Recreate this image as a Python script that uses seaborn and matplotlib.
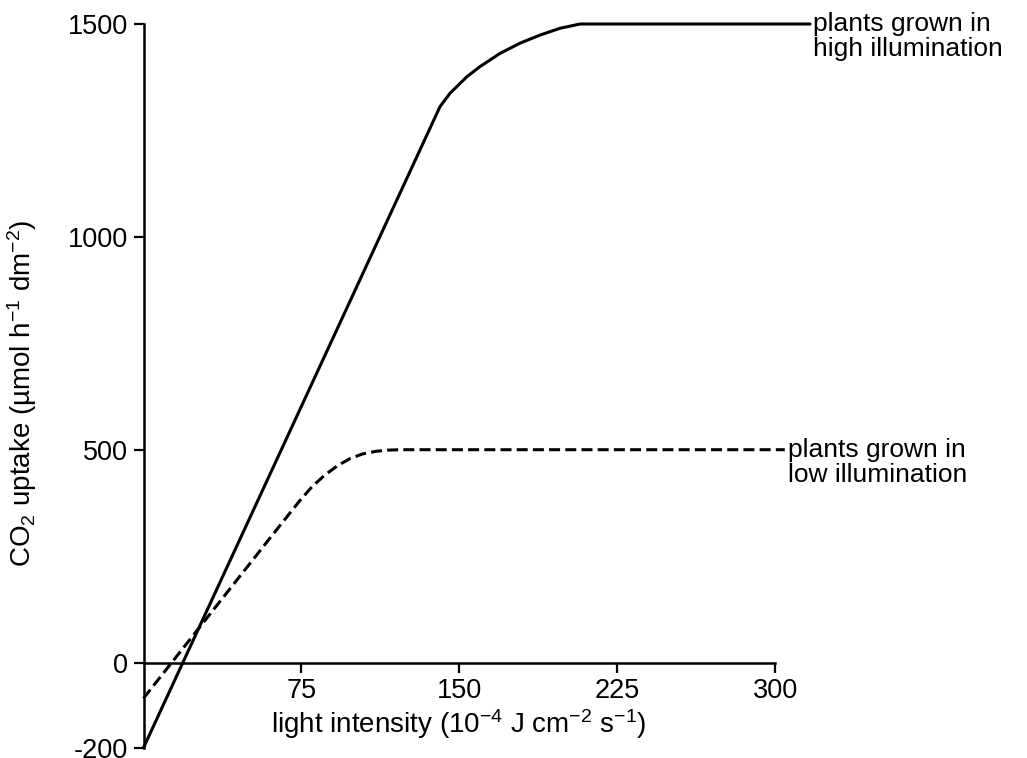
import matplotlib
matplotlib.use("Agg")
import matplotlib.pyplot as plt
import seaborn as sns
import pandas as pd

# ---- data ----
high_x = [0, 140.8, 145.5, 153.5, 159.8, 169.3, 178.8, 188.3, 197.8, 207.3, 316.5]
high_y = [-200, 1306, 1337, 1376, 1400, 1431, 1455, 1474, 1490, 1500, 1500]

low_x = [0, 60, 74, 80, 86, 92, 98, 104, 110, 116, 122, 304.5]
low_y = [-84, 292, 379, 413, 440, 462, 479, 490, 496, 499, 500, 500]

x_ticks = [75, 150, 225, 300]
x_ticklabels = ["75", "150", "225", "300"]
y_ticks = [-200, 0, 500, 1000, 1500]
y_ticklabels = ["-200", "0", "500", "1000", "1500"]

high_label = ["plants grown in", "high illumination"]
low_label = ["plants grown in", "low illumination"]
x_label = r"light intensity (10$^{-4}$ J cm$^{-2}$ s$^{-1}$)"
y_label = r"CO$_2$ uptake (µmol h$^{-1}$ dm$^{-2}$)"

# ---- style ----
sns.set_theme(style="white")
plt.rcParams["font.family"] = ["Liberation Sans", "DejaVu Sans"]
plt.rcParams["mathtext.fontset"] = "custom"
plt.rcParams["mathtext.rm"] = "Liberation Sans"
plt.rcParams["mathtext.it"] = "Liberation Sans:italic"
plt.rcParams["mathtext.bf"] = "Liberation Sans:bold"
plt.rcParams["axes.unicode_minus"] = False

W, H = 1027, 758
fig = plt.figure(figsize=(W / 100, H / 100), dpi=100)
left, right = 143.5 / W, 775.3 / W
top, bottom = 1 - 24 / H, 1 - 747.7 / H
ax = fig.add_axes([left, bottom, right - left, top - bottom])

df_high = pd.DataFrame({"x": high_x, "y": high_y})
df_low = pd.DataFrame({"x": low_x, "y": low_y})

sns.lineplot(data=df_high, x="x", y="y", ax=ax, color="black", linewidth=2.2,
             sort=False, estimator=None)
sns.lineplot(data=df_low, x="x", y="y", ax=ax, color="black", linewidth=2.2,
             sort=False, estimator=None, linestyle=(0, (3.6, 1.7)))
for ln in ax.lines:
    ln.set_clip_on(False)
    ln.set_solid_joinstyle("round")
    ln.set_dash_joinstyle("round")

ax.set_xlim(0, 300)
ax.set_ylim(-200, 1500)

ax.spines["top"].set_visible(False)
ax.spines["right"].set_visible(False)
ax.spines["bottom"].set_position(("data", 0))
for s in ("left", "bottom"):
    ax.spines[s].set_linewidth(1.8)
    ax.spines[s].set_color("black")

ax.set_xticks(x_ticks)
ax.set_xticklabels(x_ticklabels)
ax.set_yticks(y_ticks)
ax.set_yticklabels(y_ticklabels)
ax.tick_params(axis="both", direction="out", length=7, width=1.6, colors="black",
               labelsize=19.5, pad=4, left=True, bottom=True)

ax.set_xlabel(x_label, fontsize=20, color="black")
ax.set_ylabel(y_label, fontsize=20, color="black")
ax.xaxis.label.set_transform(fig.transFigure)
ax.xaxis.label.set_position((459 / W, 1 - 733 / H))
ax.xaxis.label.set_verticalalignment("baseline")
ax.xaxis.set_label_coords(459 / W, 1 - 733 / H, transform=fig.transFigure)
ax.xaxis.label.set_verticalalignment("baseline")
ax.yaxis.set_label_coords(39 / W, 1 - 393 / H, transform=fig.transFigure)

for (lx, ly), lines in (((318, 1500), high_label), ((306, 500), low_label)):
    for i, txt in enumerate(lines):
        ax.annotate(txt, xy=(lx, ly), xytext=(0, -5 - 18 * i),
                    textcoords="offset points", ha="left", va="baseline",
                    fontsize=19, color="black", annotation_clip=False)

fig.savefig("out.png", dpi=100, facecolor="white")
